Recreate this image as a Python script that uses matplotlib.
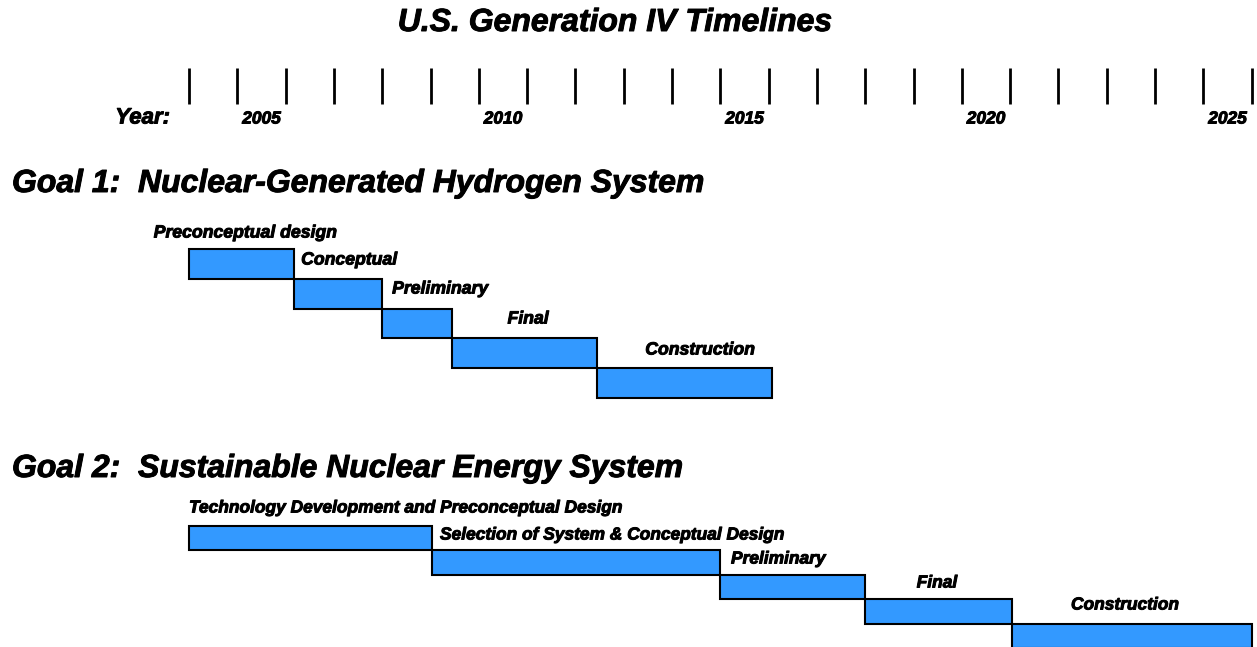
import matplotlib.pyplot as plt
import matplotlib.patheffects as pe

# --- data (years) ---
goal1_phases = ["Preconceptual design", "Conceptual", "Preliminary", "Final", "Construction"]
goal1_start = [2004.0, 2006.17, 2008.0, 2009.45, 2012.45]
goal1_end = [2006.17, 2008.0, 2009.45, 2012.45, 2016.07]

goal2_phases = ["Technology Development and Preconceptual Design",
                "Selection of System & Conceptual Design",
                "Preliminary", "Final", "Construction"]
goal2_start = [2004.0, 2009.03, 2015.0, 2018.0, 2021.03]
goal2_end = [2009.03, 2015.0, 2018.0, 2021.03, 2026.0]

tick_years = list(range(2004, 2027))
label_years = [2005, 2010, 2015, 2020, 2025]

BLUE = "#3399FF"
W, H = 1257, 647
PX_PER_YEAR = 48.3
X0 = 2004 - 189 / PX_PER_YEAR

plt.rcParams['font.family'] = ['Liberation Sans', 'DejaVu Sans']

fig = plt.figure(figsize=(W / 100, H / 100), dpi=100)
ax = fig.add_axes([0, 0, 1, 1])
ax.set_xlim(X0, X0 + W / PX_PER_YEAR)
ax.set_ylim(H, 0)
ax.axis("off")

heavy = [pe.withStroke(linewidth=0.7, foreground="black")]
bold_it = dict(fontweight="bold", fontstyle="italic", color="black", path_effects=heavy)

# title
ax.text(X0 + 615 / PX_PER_YEAR, 23, "U.S. Generation IV Timelines", ha="center", va="center",
        fontsize=23, **bold_it)

# year ruler
ax.vlines(tick_years, 68, 104, color="black", linewidth=2.0)
for yr in label_years:
    ax.text(yr + 0.5, 119, str(yr), ha="center", va="center", fontsize=12.5, **bold_it)
ax.text(X0 + 170 / PX_PER_YEAR, 118, "Year:", ha="right", va="center", fontsize=16, **bold_it)

# section headings
ax.text(X0 + 12 / PX_PER_YEAR, 184, "Goal 1:  Nuclear-Generated Hydrogen System",
        ha="left", va="center", fontsize=23, **bold_it)
ax.text(X0 + 12 / PX_PER_YEAR, 469, "Goal 2:  Sustainable Nuclear Energy System",
        ha="left", va="center", fontsize=23, **bold_it)

# goal 1 bars
g1_top, g1_step = 249, 29.8
for i, (s, e) in enumerate(zip(goal1_start, goal1_end)):
    ax.barh(g1_top + g1_step * (i + 0.5), e - s, left=s, height=g1_step,
            color=BLUE, edgecolor="black", linewidth=1.5)
g1_label_x = [245, 349, 440, 528, 700]
g1_label_y = [233, 260, 289, 319, 350]
for name, lx, ly in zip(goal1_phases, g1_label_x, g1_label_y):
    ax.text(X0 + lx / PX_PER_YEAR, ly, name, ha="center", va="center", fontsize=12.7, **bold_it)

# goal 2 bars
g2_top, g2_step = 526, 24.4
for i, (s, e) in enumerate(zip(goal2_start, goal2_end)):
    ax.barh(g2_top + g2_step * (i + 0.5), e - s, left=s, height=g2_step,
            color=BLUE, edgecolor="black", linewidth=1.5)
g2_label = [(189, "left"), (440, "left"), (731, "left"), (937, "center"), (1125, "center")]
g2_label_y = [508, 535, 559, 583, 605]
for name, (lx, ha), ly in zip(goal2_phases, g2_label, g2_label_y):
    ax.text(X0 + lx / PX_PER_YEAR, ly, name, ha=ha, va="center", fontsize=12.5, **bold_it)

fig.savefig("out.png", dpi=100)
